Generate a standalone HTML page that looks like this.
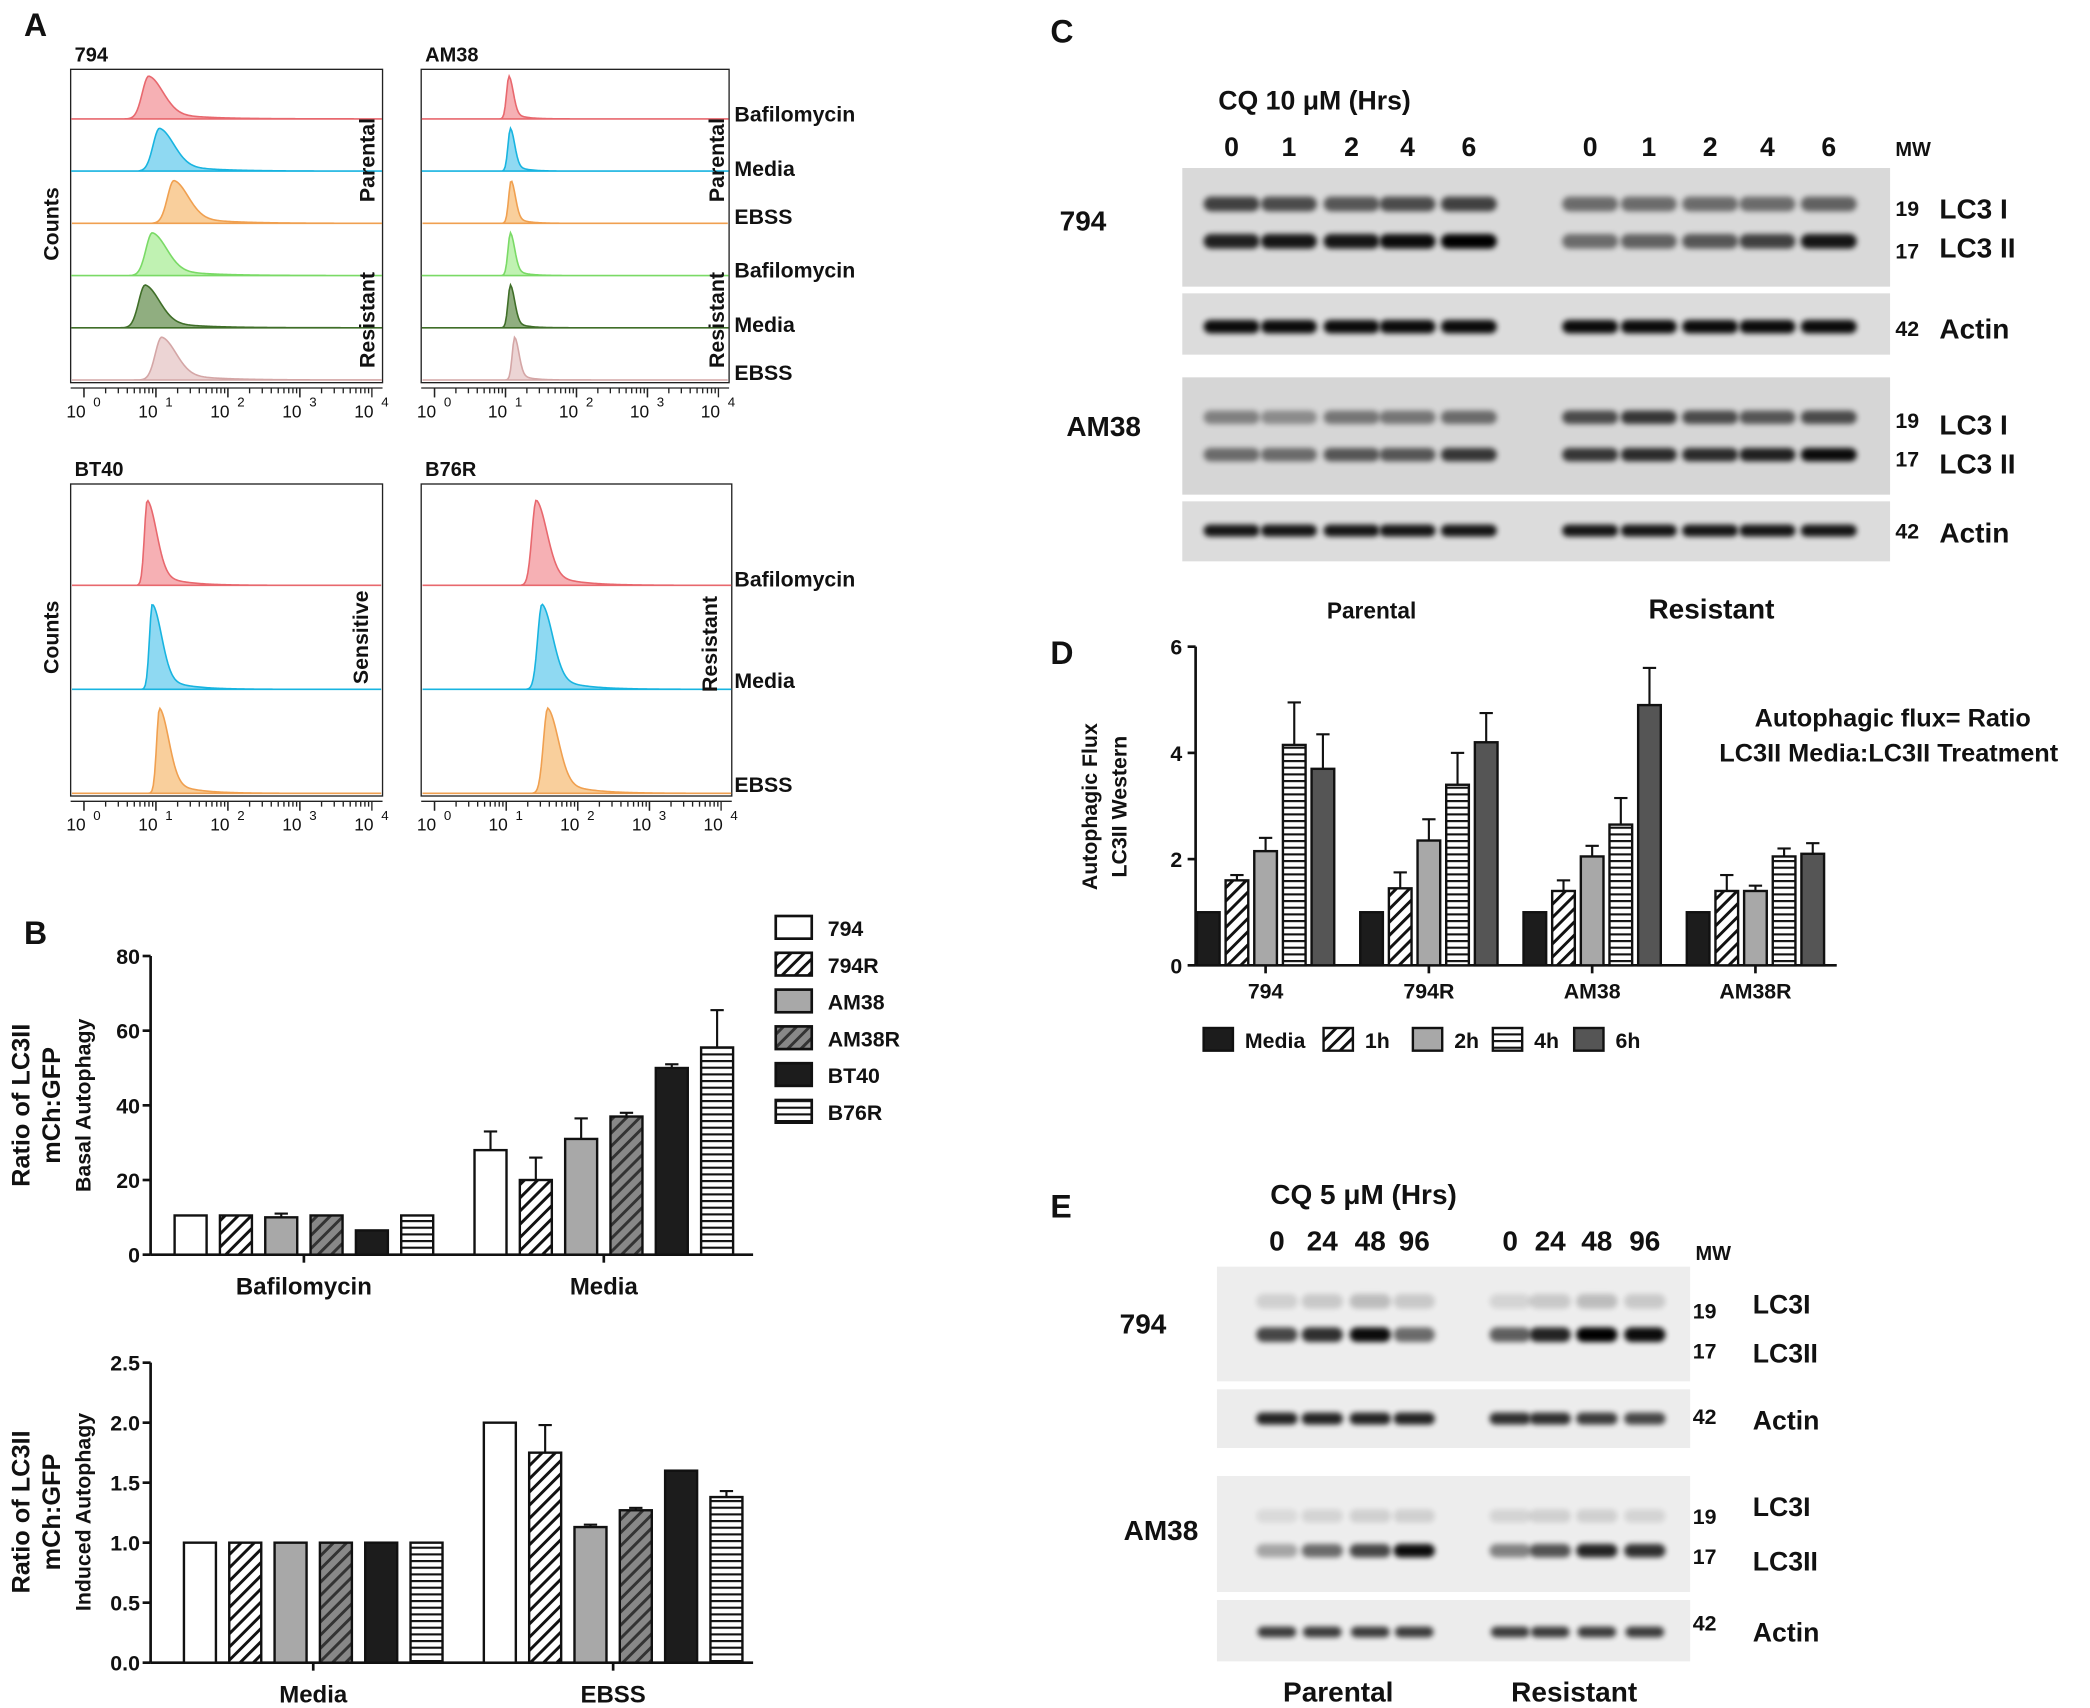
<!DOCTYPE html>
<html><head><meta charset="utf-8"><style>
html,body{margin:0;padding:0;background:#fff;}
svg{display:block;font-family:"Liberation Sans",Arial,sans-serif;}
text{font-weight:bold;fill:#111;}
</style></head><body>
<svg id="fig" xmlns="http://www.w3.org/2000/svg" width="2090" height="1708" viewBox="0 0 1568 1281" preserveAspectRatio="none">
<defs>
<pattern id="hatchD" patternUnits="userSpaceOnUse" width="7" height="7" patternTransform="rotate(45)"><rect width="7" height="7" fill="#fff"/><rect width="2.2" height="7" fill="#111"/></pattern>
<pattern id="hatchG" patternUnits="userSpaceOnUse" width="7" height="7" patternTransform="rotate(45)"><rect width="7" height="7" fill="#888"/><rect width="2.2" height="7" fill="#333"/></pattern>
<pattern id="hatchH" patternUnits="userSpaceOnUse" width="8" height="5"><rect width="8" height="5" fill="#fff"/><rect width="8" height="1.6" fill="#111"/></pattern>
<filter id="blur" x="-20%" y="-100%" width="140%" height="300%"><feGaussianBlur stdDeviation="2"/></filter>
</defs>
</svg>
<script>
// ---------- data ----------
const bCats = ['794','794R','AM38','AM38R','BT40','B76R'];
const bTopGroups = ['Bafilomycin','Media'];
const bTopVals = [[10.5,10.5,10,10.5,6.5,10.5],[28,20,31,37,50,55.5]];
const bTopErr = [[0,0,1,0,0,0],[5,6,5.5,1,1,10]];
const bTopTicks = [0,20,40,60,80];
const bBotGroups = ['Media','EBSS'];
const bBotVals = [[1,1,1,1,1,1],[2.0,1.75,1.13,1.27,1.6,1.38]];
const bBotErr = [[0,0,0,0,0,0],[0,0.23,0.02,0.02,0,0.05]];
const bBotTicks = ['0.0','0.5','1.0','1.5','2.0','2.5'];
const dGroups = ['794','794R','AM38','AM38R'];
const dSeries = ['Media','1h','2h','4h','6h'];
const dVals = [[1,1.6,2.15,4.15,3.7],[1,1.45,2.35,3.4,4.2],[1,1.4,2.05,2.65,4.9],[1,1.4,1.4,2.05,2.1]];
const dErr = [[0,0.1,0.25,0.8,0.65],[0,0.3,0.4,0.6,0.55],[0,0.2,0.2,0.5,0.7],[0,0.3,0.1,0.15,0.2]];
const dTicks = [0,2,4,6];
// histogram peak positions (decade units, log10 intensity)
const h794 = [0.9,1.05,1.25,0.95,0.85,1.08];
const hAM38 = [1.05,1.07,1.08,1.07,1.07,1.13];
const hBT40 = [0.88,0.95,1.05];
const hB76R = [1.42,1.5,1.58];

const NS='http://www.w3.org/2000/svg';
const svg=document.getElementById('fig');
function mk(tag,a,p,name){const el=document.createElementNS(NS,tag);for(const k in a)el.setAttribute(k,a[k]);


(p||svg).appendChild(el);return el;}
function txt(x,y,s,size,name,opt){opt=opt||{};const t=mk('text',Object.assign({x:x,y:y,'font-size':size},opt.a||{}),opt.p,name);t.textContent=s;return t;}
function g(name){return mk('g',{},svg,name);}

// ---------- Panel A ----------
txt(18,27,'A',24,'panel-a-label');
const rowCols=[['#e8686e','#f6b0b4'],['#18b4e0','#8fd9f2'],['#f0a050','#f9cf9c'],['#7ada66','#c0f2b2'],['#3f6e28','#90ae80'],['#d4a6a6','#ecd4d4']];
const row3=[rowCols[0],rowCols[1],rowCols[2]];
function histPanel(x0,y0,w,h,title,peaks,cols,sigL,sigR,name){
  const G=g(name);
  txt(x0+3,y0-6,title,15,name+'-title',{p:G});
  mk('rect',{x:x0,y:y0,width:w,height:h,fill:'none',stroke:'#222','stroke-width':1},G,name+'-frame');
  const n=peaks.length, rh=h/n;
  const dx0=x0+10, dec=(w-18)/4;
  const X=v=>dx0+v*dec;
  peaks.forEach((p,i)=>{
    const base=y0+rh*(i+1)-2, ht=rh*0.82;
    let d=`M${x0+1},${base}`;
    for(let xx=x0+1;xx<=x0+w-1;xx+=1){const v=(xx-dx0)/dec;let f;
      if(v<p){f=Math.exp(-Math.pow((v-p)/sigL,2)/2);}else{f=0.8*Math.exp(-Math.pow((v-p)/sigR,2)/2)+0.2*Math.exp(-(v-p)/(sigR*2.5));}
      d+=` L${xx},${(base-ht*f).toFixed(2)}`;}
    d+=` L${x0+w-1},${base} Z`;
    mk('path',{d:d,fill:cols[i][1],stroke:cols[i][0],'stroke-width':1.2},G,name+'-histogram-'+i);
  });
  const ay=y0+h+4;
  mk('line',{x1:x0,y1:ay,x2:x0+w,y2:ay,stroke:'#222','stroke-width':1},G,name+'-x-axis');
  for(let d=0;d<4;d++){for(let m=1;m<10;m++){const xx=X(d+Math.log10(m));mk('line',{x1:xx,y1:ay,x2:xx,y2:ay+(m===1?7:4),stroke:'#222','stroke-width':1},G,name+'-tick');}}
  for(let d=0;d<=4;d++){const xx=X(d);mk('line',{x1:xx,y1:ay,x2:xx,y2:ay+7,stroke:'#222'},G,name+'-tick');
    const t=txt(xx-6,ay+22,'10',13,name+'-tick-label',{p:G,a:{'text-anchor':'middle'}});t.style.fontWeight='normal';
    const s=txt(xx+7,ay+14,String(d),10,name+'-tick-exp',{p:G});s.style.fontWeight='normal';}
}
function rot(x,y,s,size,name){return txt(x,y,s,size,name,{a:{transform:`rotate(-90 ${x} ${y})`,'text-anchor':'middle'}});}
histPanel(53,52,234,235,'794',h794,rowCols,0.09,0.2,'hist-794');
histPanel(316,52,231,235,'AM38',hAM38,rowCols,0.035,0.06,'hist-am38');
histPanel(53,363,234,234,'BT40',hBT40,row3,0.04,0.13,'hist-bt40');
histPanel(316,363,233,234,'B76R',hB76R,row3,0.06,0.15,'hist-b76r');
rot(44,168,'Counts',16,'counts-label-top');rot(44,478,'Counts',16,'counts-label-bottom');
rot(281,120,'Parental',16,'parental-label-794');rot(281,240,'Resistant',16,'resistant-label-794');
rot(543,120,'Parental',16,'parental-label-am38');rot(543,240,'Resistant',16,'resistant-label-am38');
rot(276,478,'Sensitive',16,'sensitive-label');rot(538,483,'Resistant',16,'resistant-label-b76r');
[['Bafilomycin',91],['Media',132],['EBSS',168],['Bafilomycin',208],['Media',249],['EBSS',285],['Bafilomycin',440],['Media',516],['EBSS',594]].forEach((r,i)=>txt(551,r[1],r[0],16,'condition-label-'+i));

// ---------- Panel B ----------
txt(18,708,'B',24,'panel-b-label');
const fills=['#fff','url(#hatchD)','#a8a8a8','url(#hatchG)','#1c1c1c','url(#hatchH)'];
function barChart(name,axX,yTop,yBot,xEnd,vmax,ticks,groups,vals,errs,groupStarts){
  const G=g(name);
  const Y=v=>yBot-(v/vmax)*(yBot-yTop);
  mk('line',{x1:axX,y1:yTop,x2:axX,y2:yBot,stroke:'#111','stroke-width':2},G,name+'-y-axis');
  mk('line',{x1:axX,y1:yBot,x2:xEnd,y2:yBot,stroke:'#111','stroke-width':2},G,name+'-x-axis');
  ticks.forEach(t=>{const y=Y(parseFloat(t));mk('line',{x1:axX-6,y1:y,x2:axX,y2:y,stroke:'#111','stroke-width':2},G,name+'-y-tick');
    txt(axX-8,y+6,String(t),16,name+'-y-tick-label',{p:G,a:{'text-anchor':'end'}});});
  groups.forEach((gr,gi)=>{
    const gs=groupStarts[gi], bw=24, step=34;
    vals[gi].forEach((v,i)=>{const x=gs+i*step;
      if(errs[gi][i]>0){mk('line',{x1:x+bw/2,y1:Y(v),x2:x+bw/2,y2:Y(v+errs[gi][i]),stroke:'#111','stroke-width':1.6},G,name+'-error-bar');
        mk('line',{x1:x+bw/2-5,y1:Y(v+errs[gi][i]),x2:x+bw/2+5,y2:Y(v+errs[gi][i]),stroke:'#111','stroke-width':1.6},G,name+'-error-cap');}
      mk('rect',{x:x,y:Y(v),width:bw,height:yBot-Y(v),fill:fills[i],stroke:'#111','stroke-width':1.8},G,name+'-bar-'+bCats[i]+'-'+gr.toLowerCase());});
    const cx=gs+(5*step+bw)/2;
    mk('line',{x1:cx,y1:yBot,x2:cx,y2:yBot+6,stroke:'#111','stroke-width':2},G,name+'-x-tick');
    txt(cx,yBot+30,gr,18,name+'-x-label',{p:G,a:{'text-anchor':'middle'}});
  });
}
barChart('chart-b-top',113,717,941,565,80,bTopTicks,bTopGroups,bTopVals,bTopErr,[131,356]);
barChart('chart-b-bottom',113,1022,1247,565,2.5,bBotTicks,bBotGroups,bBotVals,bBotErr,[138,363]);
rot(22,829,'Ratio of LC3II',19,'b-top-y-title-1');rot(45,829,'mCh:GFP',19,'b-top-y-title-2');rot(68,829,'Basal Autophagy',16,'b-top-y-title-3');
rot(22,1134,'Ratio of LC3II',19,'b-bot-y-title-1');rot(45,1134,'mCh:GFP',19,'b-bot-y-title-2');rot(68,1134,'Induced Autophagy',16,'b-bot-y-title-3');
bCats.forEach((c,i)=>{const y=687+i*27.6;
  const r=mk('rect',{x:582,y:y,width:27,height:17,fill:fills[i],stroke:'#111','stroke-width':2},svg,'legend-swatch-'+c);
  txt(621,y+15,c,16,'legend-entry-'+c);});

// ---------- Western blots ----------
function blot(name,x,y,w,h,bg,lanes,bands,bw,bh){
  const G=g(name);
  mk('rect',{x:x,y:y,width:w,height:h,fill:bg},G,name+'-membrane');
  bands.forEach((b,bi)=>b.ints.forEach((v,i)=>{
    mk('rect',{x:lanes[i]-bw/2,y:b.y-bh/2,width:bw,height:bh,rx:bh/2,fill:'#000',opacity:v,filter:'url(#blur)'},G,name+'-band-'+bi+'-'+i);}));
}
txt(788,32,'C',24,'panel-c-label');
txt(914,82,'CQ 10 μM (Hrs)',20,'c-treatment-title');
const cLanes=[924,967,1014,1056,1102,1193,1237,1283,1326,1372];
['0','1','2','4','6','0','1','2','4','6'].forEach((s,i)=>txt(cLanes[i],117,s,20,'c-time-label',{a:{'text-anchor':'middle'}}));
txt(1422,117,'MW',15,'c-mw-header');
blot('c-794-lc3',887,126,531,89,'#d9d9d9',cLanes,[{y:153,ints:[0.7,0.65,0.6,0.65,0.7,0.5,0.5,0.5,0.5,0.55]},{y:181,ints:[0.85,0.9,0.9,0.95,1,0.5,0.55,0.6,0.7,0.9]}],42,11);
blot('c-794-actin',887,220,531,46,'#dcdcdc',cLanes,[{y:245,ints:[0.95,0.95,0.95,0.95,0.95,0.95,0.95,0.95,0.95,0.95]}],42,10);
blot('c-am38-lc3',887,283,531,88,'#d6d6d6',cLanes,[{y:313,ints:[0.4,0.35,0.45,0.45,0.5,0.65,0.75,0.65,0.6,0.65]},{y:341,ints:[0.5,0.5,0.6,0.6,0.75,0.75,0.8,0.8,0.85,0.95]}],42,10);
blot('c-am38-actin',887,376,531,45,'#dcdcdc',cLanes,[{y:398,ints:[0.9,0.9,0.9,0.9,0.9,0.9,0.9,0.9,0.9,0.9]}],42,9);
txt(795,173,'794',21,'c-794-label');txt(800,327,'AM38',21,'c-am38-label');
[['19',162],['17',194],['42',252],['19',321],['17',350],['42',404]].forEach((m,i)=>txt(1422,m[1],m[0],16,'c-mw-'+i));
[['LC3 I',164],['LC3 II',193],['Actin',254],['LC3 I',326],['LC3 II',355],['Actin',407]].forEach((m,i)=>txt(1455,m[1],m[0],21,'c-band-label-'+i));
txt(1029,464,'Parental',17,'c-parental-label',{a:{'text-anchor':'middle'}});
txt(1284,464,'Resistant',21,'c-resistant-label',{a:{'text-anchor':'middle'}});

// ---------- Panel D ----------
txt(788,498,'D',24,'panel-d-label');
(function(){
  const G=g('chart-d');const axX=897,yTop=485,yBot=724,vmax=6,xEnd=1378;
  const Y=v=>yBot-(v/vmax)*(yBot-yTop);
  const dFills=['#1c1c1c','url(#hatchD)','#a8a8a8','url(#hatchH)','#555'];
  mk('line',{x1:axX,y1:yTop,x2:axX,y2:yBot,stroke:'#111','stroke-width':2},G,'d-y-axis');
  mk('line',{x1:axX,y1:yBot,x2:xEnd,y2:yBot,stroke:'#111','stroke-width':2},G,'d-x-axis');
  dTicks.forEach(t=>{const y=Y(t);mk('line',{x1:axX-6,y1:y,x2:axX,y2:y,stroke:'#111','stroke-width':2},G,'d-y-tick');
    txt(axX-10,y+6,String(t),16,'d-y-tick-label',{p:G,a:{'text-anchor':'end'}});});
  dGroups.forEach((gr,gi)=>{const gs=898+gi*122.5;
    dVals[gi].forEach((v,i)=>{const x=gs+i*21.5,bw=17,e=dErr[gi][i];
      if(e>0){mk('line',{x1:x+bw/2,y1:Y(v),x2:x+bw/2,y2:Y(v+e),stroke:'#111','stroke-width':1.6},G,'d-error-bar');
        mk('line',{x1:x+bw/2-5,y1:Y(v+e),x2:x+bw/2+5,y2:Y(v+e),stroke:'#111','stroke-width':1.6},G,'d-error-cap');}
      mk('rect',{x:x,y:Y(v),width:bw,height:yBot-Y(v),fill:dFills[i],stroke:'#111','stroke-width':1.8},G,'d-bar-'+gr+'-'+dSeries[i]);});
    const cx=gs+(4*21.5+17)/2;
    mk('line',{x1:cx,y1:yBot,x2:cx,y2:yBot+6,stroke:'#111','stroke-width':2},G,'d-x-tick');
    txt(cx,yBot+25,gr,16,'d-x-label',{p:G,a:{'text-anchor':'middle'}});});
  const lx=[903,993,1060,1120,1181];
  dSeries.forEach((s,i)=>{mk('rect',{x:lx[i],y:771,width:22,height:17,fill:dFills[i],stroke:'#111','stroke-width':1.8},G,'d-legend-swatch-'+s);
    txt(lx[i]+31,786,s,16,'d-legend-entry-'+s,{p:G});});
})();
rot(823,605,'Autophagic Flux',16,'d-y-title-1');rot(845,605,'LC3II Western',16,'d-y-title-2');
txt(1420,545,'Autophagic flux= Ratio',19,'d-annotation-1',{a:{'text-anchor':'middle'}});
txt(1417,571,'LC3II Media:LC3II Treatment',19,'d-annotation-2',{a:{'text-anchor':'middle'}});

// ---------- Panel E ----------
txt(788,913,'E',24,'panel-e-label');
txt(953,903,'CQ 5 μM (Hrs)',21,'e-treatment-title');
const eLanes=[958,992,1028,1061,1133,1163,1198,1234];
['0','24','48','96','0','24','48','96'].forEach((s,i)=>txt(eLanes[i],938,s,21,'e-time-label',{a:{'text-anchor':'middle'}}));
txt(1272,945,'MW',15,'e-mw-header');
blot('e-794-lc3',913,950,355,86,'#ededed',eLanes,[{y:976,ints:[0.12,0.15,0.2,0.15,0.1,0.15,0.2,0.15]},{y:1001,ints:[0.7,0.8,0.95,0.55,0.6,0.85,1,0.95]}],31,11);
blot('e-794-actin',913,1042,355,44,'#ececec',eLanes,[{y:1064,ints:[0.85,0.85,0.85,0.85,0.8,0.8,0.75,0.7]}],31,9);
blot('e-am38-lc3',913,1107,355,87,'#ededed',eLanes,[{y:1137,ints:[0.08,0.1,0.12,0.12,0.1,0.12,0.12,0.1]},{y:1163,ints:[0.3,0.55,0.7,0.95,0.45,0.65,0.85,0.8]}],31,10);
blot('e-am38-actin',913,1200,355,46,'#ececec',eLanes,[{y:1224,ints:[0.75,0.75,0.75,0.75,0.75,0.75,0.75,0.75]}],29,8);
txt(840,1000,'794',21,'e-794-label');txt(843,1155,'AM38',21,'e-am38-label');
[['19',989],['17',1019],['42',1068],['19',1143],['17',1173],['42',1223]].forEach((m,i)=>txt(1270,m[1],m[0],16,'e-mw-'+i));
[['LC3I',985],['LC3II',1022],['Actin',1072],['LC3I',1137],['LC3II',1178],['Actin',1231]].forEach((m,i)=>txt(1315,m[1],m[0],20,'e-band-label-'+i));
txt(1004,1276,'Parental',21,'e-parental-label',{a:{'text-anchor':'middle'}});
txt(1181,1276,'Resistant',21,'e-resistant-label',{a:{'text-anchor':'middle'}});
</script>
</body></html>
